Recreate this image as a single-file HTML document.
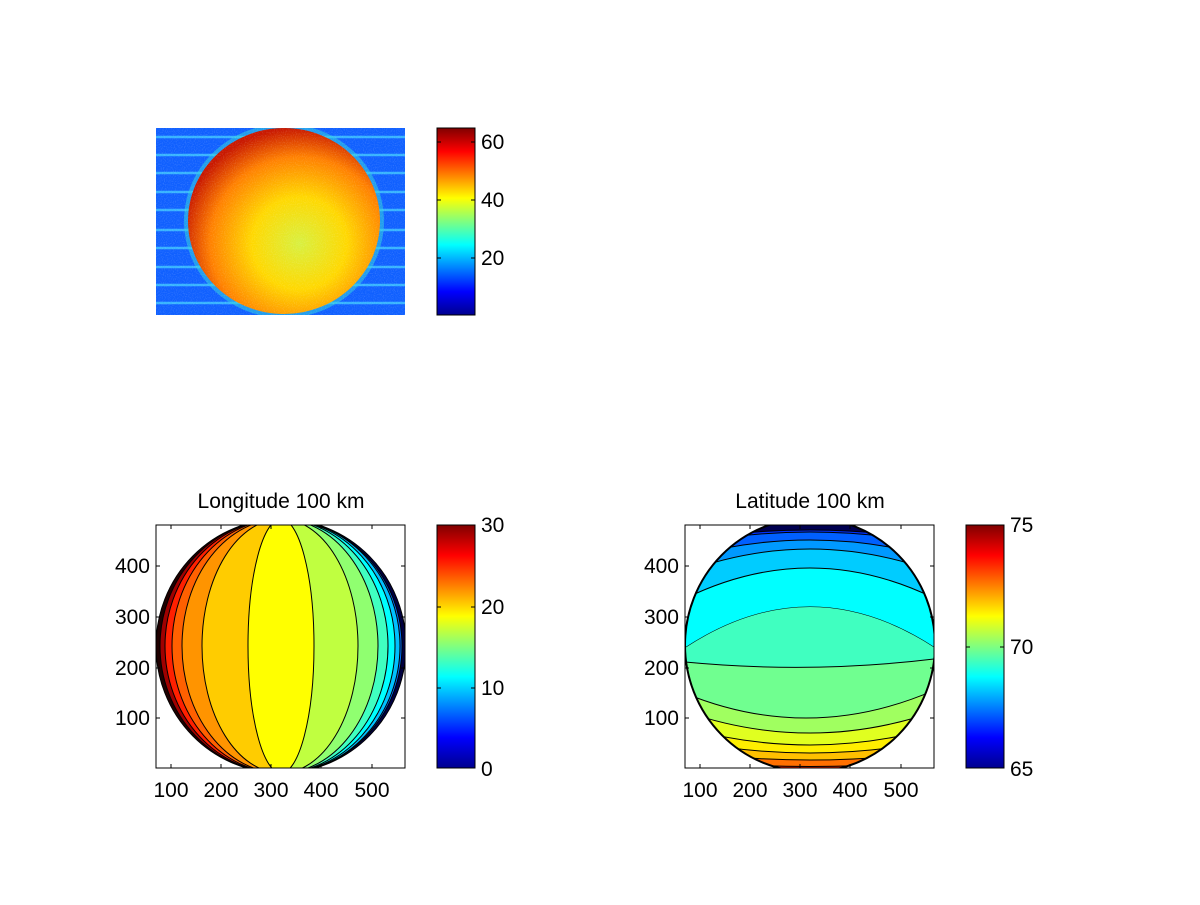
<!DOCTYPE html>
<html><head><style>
html,body{margin:0;padding:0;background:#fff;}
svg text{font-family:"Liberation Sans",Arial,sans-serif;font-size:21px;fill:#000;}
</style></head><body>
<svg width="1200" height="900" viewBox="0 0 1200 900" xmlns="http://www.w3.org/2000/svg">
<defs>
<linearGradient id="jet" x1="0" y1="1" x2="0" y2="0">
<stop offset="0" stop-color="#00008f"/>
<stop offset="0.125" stop-color="#0000ff"/>
<stop offset="0.375" stop-color="#00ffff"/>
<stop offset="0.625" stop-color="#ffff00"/>
<stop offset="0.875" stop-color="#ff0000"/>
<stop offset="1" stop-color="#800000"/>
</linearGradient>
<radialGradient id="disk" cx="0.58" cy="0.62" r="0.62">
<stop offset="0" stop-color="#d8f040"/>
<stop offset="0.4" stop-color="#ffd800"/>
<stop offset="0.75" stop-color="#ff8000"/>
<stop offset="1" stop-color="#c81800"/>
</radialGradient>
<filter id="noise" x="0" y="0" width="1" height="1">
<feTurbulence type="fractalNoise" baseFrequency="0.9" numOctaves="1" seed="3"/>
<feColorMatrix type="matrix" values="0 0 0 0 1  0 0 0 0 1  0 0 0 0 1  0 0 0 1.2 -0.55"/>
</filter>
<clipPath id="ax1"><rect x="156" y="128" width="249" height="187"/></clipPath>
<clipPath id="ax2"><rect x="156" y="525" width="249" height="243"/></clipPath>
<clipPath id="ax3"><rect x="685" y="525" width="249" height="243"/></clipPath>
<clipPath id="lh"><rect x="100" y="500" width="181" height="300"/></clipPath>
<clipPath id="rh"><rect x="281" y="500" width="200" height="300"/></clipPath>
<clipPath id="c3"><ellipse cx="810" cy="645" rx="125" ry="127"/></clipPath>
</defs>

<!-- Top image -->
<g clip-path="url(#ax1)">
<rect x="156" y="128" width="249" height="187" fill="#1060ff"/>
<g stroke="#40c8ff" stroke-width="2.5" opacity="0.8">
<line x1="156" y1="137" x2="405" y2="137"/><line x1="156" y1="155" x2="405" y2="155"/>
<line x1="156" y1="173" x2="405" y2="173"/><line x1="156" y1="192" x2="405" y2="192"/>
<line x1="156" y1="210" x2="405" y2="210"/><line x1="156" y1="230" x2="405" y2="230"/>
<line x1="156" y1="248" x2="405" y2="248"/><line x1="156" y1="267" x2="405" y2="267"/>
<line x1="156" y1="285" x2="405" y2="285"/><line x1="156" y1="303" x2="405" y2="303"/>
</g>
<ellipse cx="284" cy="221" rx="100" ry="97" fill="#30d0e0" opacity="0.55"/>
<ellipse cx="284" cy="221" rx="96" ry="93" fill="url(#disk)"/>
<rect x="156" y="128" width="249" height="187" filter="url(#noise)" opacity="0.35"/>
</g>
<rect x="437" y="128" width="38" height="187" fill="url(#jet)" stroke="#000" stroke-width="1"/>
<g stroke="#000" stroke-width="1">
<line x1="437" y1="258" x2="441" y2="258"/><line x1="471" y1="258" x2="475" y2="258"/>
<line x1="437" y1="200" x2="441" y2="200"/><line x1="471" y1="200" x2="475" y2="200"/>
<line x1="437" y1="142" x2="441" y2="142"/><line x1="471" y1="142" x2="475" y2="142"/>
</g>
<text x="481" y="265">20</text><text x="481" y="207">40</text><text x="481" y="149">60</text>

<!-- Longitude -->
<text x="281" y="508" text-anchor="middle">Longitude 100 km</text>
<rect x="156" y="525" width="249" height="243" fill="#fff"/>
<g clip-path="url(#ax2)" stroke="#000" stroke-width="1">
<g clip-path="url(#lh)">
<ellipse cx="281" cy="646" rx="125" ry="127" fill="#200000"/>
<ellipse cx="281" cy="646" rx="121" ry="127" fill="#a00000"/>
<ellipse cx="281" cy="646" rx="116" ry="127" fill="#ff2000"/>
<ellipse cx="281" cy="646" rx="109" ry="127" fill="#ff6000"/>
<ellipse cx="281" cy="646" rx="99" ry="127" fill="#ff9400"/>
<ellipse cx="281" cy="646" rx="79" ry="127" fill="#ffcc00"/>
<ellipse cx="281" cy="646" rx="33" ry="127" fill="#ffff00"/>
</g>
<g clip-path="url(#rh)">
<ellipse cx="281" cy="646" rx="125" ry="127" fill="#000040"/>
<ellipse cx="281" cy="646" rx="121" ry="127" fill="#0070ff"/>
<ellipse cx="281" cy="646" rx="119" ry="127" fill="#00c0ff"/>
<ellipse cx="281" cy="646" rx="114" ry="127" fill="#00ffff"/>
<ellipse cx="281" cy="646" rx="107" ry="127" fill="#40ffc0"/>
<ellipse cx="281" cy="646" rx="97" ry="127" fill="#90ff70"/>
<ellipse cx="281" cy="646" rx="77" ry="127" fill="#c0ff40"/>
<ellipse cx="281" cy="646" rx="33" ry="127" fill="#ffff00"/>
</g>
</g>
<rect x="156" y="525" width="249" height="243" fill="none" stroke="#000" stroke-width="1"/>
<g stroke="#000" stroke-width="1">
<line x1="171" y1="768" x2="171" y2="764"/><line x1="221" y1="768" x2="221" y2="764"/>
<line x1="271" y1="768" x2="271" y2="764"/><line x1="321" y1="768" x2="321" y2="764"/>
<line x1="372" y1="768" x2="372" y2="764"/>
<line x1="171" y1="525" x2="171" y2="529"/><line x1="221" y1="525" x2="221" y2="529"/>
<line x1="271" y1="525" x2="271" y2="529"/><line x1="321" y1="525" x2="321" y2="529"/>
<line x1="372" y1="525" x2="372" y2="529"/>
<line x1="156" y1="566" x2="160" y2="566"/><line x1="156" y1="617" x2="160" y2="617"/>
<line x1="156" y1="668" x2="160" y2="668"/><line x1="156" y1="718" x2="160" y2="718"/>
<line x1="405" y1="566" x2="401" y2="566"/><line x1="405" y1="617" x2="401" y2="617"/>
<line x1="405" y1="668" x2="401" y2="668"/><line x1="405" y1="718" x2="401" y2="718"/>
</g>
<g text-anchor="end"><text x="150" y="573">400</text><text x="150" y="624">300</text><text x="150" y="675">200</text><text x="150" y="725">100</text></g>
<g text-anchor="middle"><text x="171" y="797">100</text><text x="221" y="797">200</text><text x="271" y="797">300</text><text x="321" y="797">400</text><text x="372" y="797">500</text></g>
<rect x="437" y="525" width="38" height="243" fill="url(#jet)" stroke="#000" stroke-width="1"/>
<g stroke="#000" stroke-width="1">
<line x1="437" y1="688" x2="441" y2="688"/><line x1="471" y1="688" x2="475" y2="688"/>
<line x1="437" y1="607" x2="441" y2="607"/><line x1="471" y1="607" x2="475" y2="607"/>
</g>
<text x="481" y="776">0</text><text x="481" y="695">10</text><text x="481" y="614">20</text><text x="481" y="532">30</text>

<!-- Latitude -->
<text x="810" y="508" text-anchor="middle">Latitude 100 km</text>
<g clip-path="url(#ax3)">
<g clip-path="url(#c3)" stroke="#000" stroke-width="1">
<rect x="680" y="515" width="260" height="260" fill="#000050"/>
<path d="M660 545 Q810 515 960 545 L960 800 L660 800Z" fill="#0030ff"/>
<path d="M660 550 Q810 514 960 550 L960 800 L660 800Z" fill="#0060ff"/>
<path d="M660 565 Q810 515 960 565 L960 800 L660 800Z" fill="#0099ff"/>
<path d="M660 582 Q810 516 960 582 L960 800 L660 800Z" fill="#00ccff"/>
<path d="M660 612 Q810 524 960 612 L960 800 L660 800Z" fill="#00ffff"/>
<path d="M685 648 Q810 566 935 648 L960 800 L660 800Z" fill="#40ffc0"/>
<path d="M660 648 L685 648 Q810 566 935 648 L960 648 L960 800 L660 800Z" fill="#40ffc0" stroke="none"/>
<path d="M685 662 Q810 674 934 659 L960 800 L660 800Z" fill="#70ff90"/>
<path d="M660 682 Q810 756 960 678 L960 800 L660 800Z" fill="#a0ff60"/>
<path d="M660 702 Q810 764 960 702 L960 800 L660 800Z" fill="#e0ff20"/>
<path d="M660 720 Q810 770 960 720 L960 800 L660 800Z" fill="#ffee00"/>
<path d="M660 735 Q810 771 960 735 L960 800 L660 800Z" fill="#ffc000"/>
<path d="M660 748 Q810 772 960 748 L960 800 L660 800Z" fill="#ff7000"/>
<path d="M660 758 Q810 775 960 758 L960 800 L660 800Z" fill="#e02000"/>
</g>
<ellipse cx="810" cy="645" rx="125" ry="127" fill="none" stroke="#000" stroke-width="2"/>
</g>
<rect x="685" y="525" width="249" height="243" fill="none" stroke="#000" stroke-width="1"/>
<g stroke="#000" stroke-width="1">
<line x1="700" y1="768" x2="700" y2="764"/><line x1="750" y1="768" x2="750" y2="764"/>
<line x1="800" y1="768" x2="800" y2="764"/><line x1="850" y1="768" x2="850" y2="764"/>
<line x1="901" y1="768" x2="901" y2="764"/>
<line x1="700" y1="525" x2="700" y2="529"/><line x1="750" y1="525" x2="750" y2="529"/>
<line x1="800" y1="525" x2="800" y2="529"/><line x1="850" y1="525" x2="850" y2="529"/>
<line x1="901" y1="525" x2="901" y2="529"/>
<line x1="685" y1="566" x2="689" y2="566"/><line x1="685" y1="617" x2="689" y2="617"/>
<line x1="685" y1="668" x2="689" y2="668"/><line x1="685" y1="718" x2="689" y2="718"/>
<line x1="934" y1="566" x2="930" y2="566"/><line x1="934" y1="617" x2="930" y2="617"/>
<line x1="934" y1="668" x2="930" y2="668"/><line x1="934" y1="718" x2="930" y2="718"/>
</g>
<g text-anchor="end"><text x="679" y="573">400</text><text x="679" y="624">300</text><text x="679" y="675">200</text><text x="679" y="725">100</text></g>
<g text-anchor="middle"><text x="700" y="797">100</text><text x="750" y="797">200</text><text x="800" y="797">300</text><text x="850" y="797">400</text><text x="901" y="797">500</text></g>
<rect x="966" y="525" width="38" height="243" fill="url(#jet)" stroke="#000" stroke-width="1"/>
<g stroke="#000" stroke-width="1">
<line x1="966" y1="647" x2="970" y2="647"/><line x1="1000" y1="647" x2="1004" y2="647"/>
</g>
<text x="1010" y="776">65</text><text x="1010" y="654">70</text><text x="1010" y="532">75</text>
</svg>
</body></html>
